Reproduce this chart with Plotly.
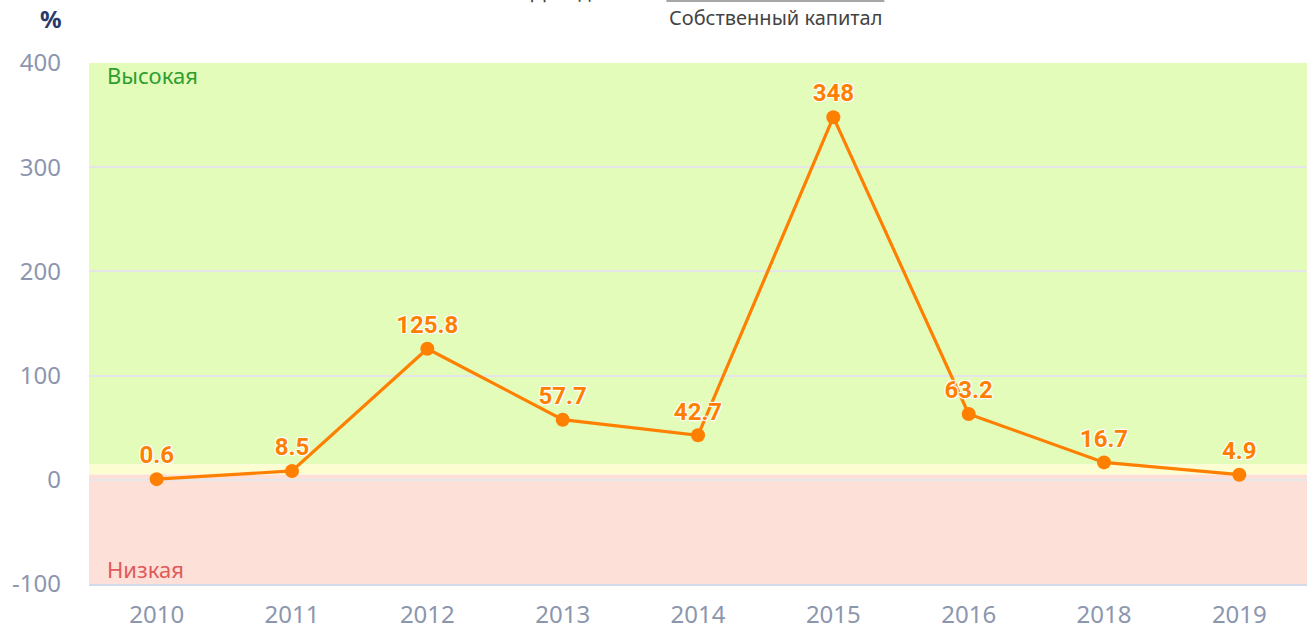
import plotly.graph_objects as go

years = ["2010", "2011", "2012", "2013", "2014", "2015", "2016", "2018", "2019"]
values = [0.6, 8.5, 125.8, 57.7, 42.7, 348, 63.2, 16.7, 4.9]
labels = ["0.6", "8.5", "125.8", "57.7", "42.7", "348", "63.2", "16.7", "4.9"]
y_ticks = [-100, 0, 100, 200, 300, 400]

# zone boundaries (%)
zone_top = 400
zone_high_min = 15
zone_mid_min = 5
zone_bottom = -100

FONT = "Noto Sans"
ORANGE = "#ff8000"
TICK_COLOR = "#8c96ae"

fig = go.Figure()

fig.add_trace(go.Scatter(
    x=years, y=values, mode="lines+markers+text",
    text=labels, textposition="top center",
    line=dict(color=ORANGE, width=3.2),
    marker=dict(color=ORANGE, size=14),
    textfont=dict(family="Roboto", size=24, color=ORANGE, weight="bold",
                  shadow="1px 1px 1px #fff, -1px -1px 1px #fff, 1px -1px 1px #fff, -1px 1px 1px #fff"),
    cliponaxis=False, showlegend=False, hoverinfo="skip",
))

shapes = [
    dict(type="rect", xref="paper", yref="y", x0=0, x1=1, y0=zone_high_min, y1=zone_top,
         fillcolor="#e3fcba", line=dict(width=0), layer="below"),
    dict(type="rect", xref="paper", yref="y", x0=0, x1=1, y0=zone_mid_min, y1=zone_high_min,
         fillcolor="#fdfdd2", line=dict(width=0), layer="below"),
    dict(type="rect", xref="paper", yref="y", x0=0, x1=1, y0=zone_bottom, y1=zone_mid_min,
         fillcolor="#fde0d8", line=dict(width=0), layer="below"),
    # fraction line of the formula (mostly cut off at the top)
    dict(type="line", xref="paper", yref="paper", x0=0.474, x1=0.653, y0=1.1188, y1=1.1188,
         line=dict(color="#888888", width=1.5)),
]

annotations = [
    dict(text="Высокая", xref="paper", yref="y", x=0.0135, y=zone_top, xanchor="left", yanchor="top",
         yshift=5, showarrow=False, font=dict(family=FONT, size=22, color="#2e9e2e")),
    dict(text="Низкая", xref="paper", yref="y", x=0.0135, y=zone_bottom, xanchor="left", yanchor="bottom",
         yshift=-2, showarrow=False, font=dict(family=FONT, size=22, color="#e05a5a")),
    dict(text="<b>%</b>", xref="paper", yref="paper", x=-0.031, y=1.085, xanchor="center", yanchor="middle",
         showarrow=False, font=dict(family=FONT, size=24, color="#2b3a67")),
    dict(text="Собственный капитал", xref="paper", yref="paper", x=0.5636, y=1.088,
         xanchor="center", yanchor="middle", showarrow=False,
         font=dict(family=FONT, size=20, color="#444444")),
    dict(text="Доходность", xref="paper", yref="paper", x=0.458, y=1.137,
         xanchor="right", yanchor="middle", showarrow=False,
         font=dict(family=FONT, size=20, color="#444444")),
    dict(text="100%", xref="paper", yref="paper", x=0.659, y=1.137,
         xanchor="left", yanchor="middle", showarrow=False,
         font=dict(family=FONT, size=20, color="#444444")),
]

fig.update_layout(
    width=1310, height=633,
    margin=dict(l=89, r=3, t=63, b=46),
    paper_bgcolor="white", plot_bgcolor="rgba(0,0,0,0)",
    font=dict(family=FONT),
    shapes=shapes, annotations=annotations,
    xaxis=dict(
        type="category", categoryorder="array", categoryarray=years,
        range=[-0.5, len(years) - 0.5],
        showgrid=False, zeroline=False,
        showline=True, linecolor="#d3dbeb", linewidth=2,
        tickfont=dict(family=FONT, size=24, color=TICK_COLOR),
        ticklabelstandoff=8,
        fixedrange=True,
    ),
    yaxis=dict(
        range=[zone_bottom, zone_top],
        tickvals=y_ticks, ticktext=[str(v) for v in y_ticks],
        showgrid=True, gridcolor="#e6e6ea", gridwidth=2,
        zeroline=False, showline=False,
        tickfont=dict(family=FONT, size=24, color=TICK_COLOR),
        ticklabelstandoff=27,
        fixedrange=True,
    ),
)

# remove the default 8px page margin so the figure fills the window exactly
fig.write_html("out.html", config={"displayModeBar": False},
               post_script="document.body.style.margin='0px';")
